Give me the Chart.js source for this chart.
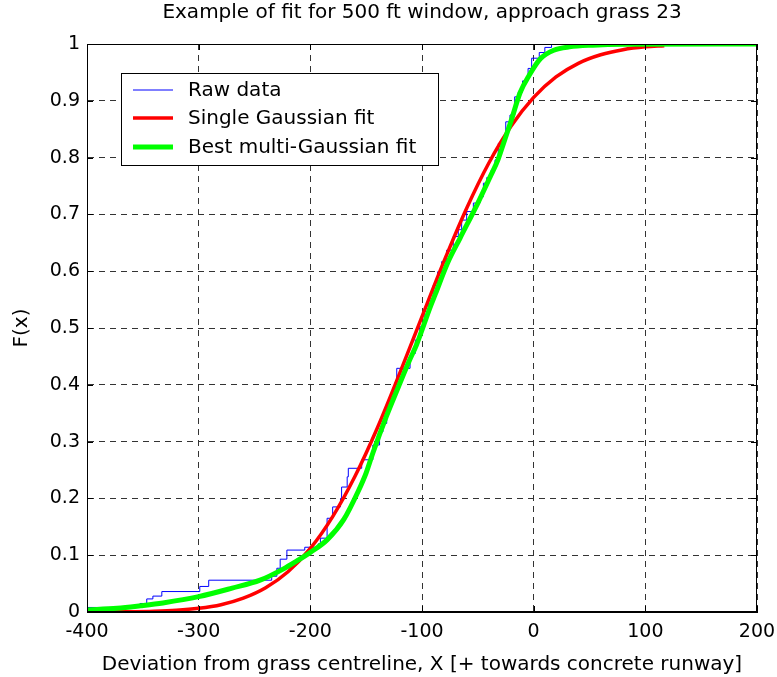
<!DOCTYPE html>
<html>
<head>
<meta charset="utf-8">
<script src="https://cdn.jsdelivr.net/npm/chart.js@4.4.1/dist/chart.umd.min.js"></script>
<style>
    html, body { margin: 0; padding: 0; background: #fff; }
    #wrap { width: 777px; height: 677px; }
</style>
</head>
<body>
<div id="wrap"><canvas id="cdfChart" width="777" height="677"></canvas></div>
<script>
// Datos
const xTicks = [-400, -300, -200, -100, 0, 100, 200];
const yTicks = [0, 0.1, 0.2, 0.3, 0.4, 0.5, 0.6, 0.7, 0.8, 0.9, 1];

// Raw data (escalones de la CDF empírica)
const rawX = [-400, -352.5, -346.5, -341, -333, -299, -291, -234.6, -230, -227, -221, -205, -193, -191, -185, -180, -173, -172, -167, -166, -154, -144, -138, -135, -131.6, -128, -124, -122.6, -110.7, -109, -106, -102, -98, -94, -90, -86, -82.4, -78, -72, -67.5, -64.5, -60, -54, -48, -45, -42, -38, -34.6, -31.7, -28.7, -25, -21.2, -17, -13.8, -10, -5, -1.8, 5, 10, 16, 65, 200];
const rawF = [0, 0.008, 0.015, 0.023, 0.028, 0.036, 0.045, 0.056, 0.063, 0.077, 0.093, 0.109, 0.114, 0.12, 0.13, 0.165, 0.185, 0.2, 0.22, 0.238, 0.253, 0.268, 0.294, 0.317, 0.332, 0.36, 0.385, 0.405, 0.429, 0.447, 0.455, 0.479, 0.502, 0.529, 0.549, 0.575, 0.599, 0.617, 0.637, 0.661, 0.673, 0.69, 0.705, 0.72, 0.731, 0.755, 0.765, 0.778, 0.796, 0.825, 0.83, 0.863, 0.875, 0.907, 0.915, 0.935, 0.957, 0.975, 0.985, 0.994, 1, 1];

// Single Gaussian fit
const singleX = [-400, -360, -340, -320, -300, -280, -260, -240, -220, -200, -180, -160, -140, -120, -100, -80, -60, -40, -20, 0, 20, 40, 60, 80, 100, 117];
const singleF = [0.0001, 0.0006, 0.0014, 0.0031, 0.0066, 0.0129, 0.0244, 0.0427, 0.0708, 0.112, 0.168, 0.239, 0.324, 0.420, 0.520, 0.619, 0.711, 0.791, 0.856, 0.906, 0.942, 0.966, 0.981, 0.990, 0.995, 0.997];

// Best multi-Gaussian fit
const multiX = [-400, -373, -352, -332, -300, -270, -245, -224, -212, -200, -185, -170, -157, -150, -144, -132, -121, -111, -105, -93, -88, -77, -66, -50, -39, -32, -27, -20, -12, -4, 6, 18, 32, 53, 80, 200];
const multiF = [0.0035, 0.0065, 0.011, 0.016, 0.027, 0.042, 0.056, 0.076, 0.09, 0.105, 0.127, 0.163, 0.213, 0.245, 0.28, 0.344, 0.397, 0.444, 0.47, 0.535, 0.56, 0.615, 0.658, 0.72, 0.766, 0.796, 0.825, 0.866, 0.915, 0.945, 0.974, 0.989, 0.995, 0.998, 0.9995, 1];

const toPoints = (xs, ys) => xs.map((x, i) => ({ x: x, y: ys[i] }));

const fontMain = '"DejaVu Sans", "Liberation Sans", Arial, sans-serif';

// Caja completa estilo MATLAB + marcas de tick hacia dentro
const boxPlugin = {
    id: 'boxPlugin',
    afterDatasetsDraw(chart) {
        const { ctx, chartArea: a, scales } = chart;
        ctx.save();
        ctx.strokeStyle = '#000';
        ctx.lineWidth = 1;
        ctx.strokeRect(a.left + 0.5, a.top + 0.5, a.right - a.left - 1, a.bottom - a.top - 1);
        ctx.beginPath();
        xTicks.forEach(v => {
            const px = Math.round(scales.x.getPixelForValue(v)) + 0.5;
            ctx.moveTo(px, a.bottom); ctx.lineTo(px, a.bottom - 6);
            ctx.moveTo(px, a.top); ctx.lineTo(px, a.top + 6);
        });
        yTicks.forEach(v => {
            const py = Math.round(scales.y.getPixelForValue(v)) + 0.5;
            ctx.moveTo(a.left, py); ctx.lineTo(a.left + 6, py);
            ctx.moveTo(a.right, py); ctx.lineTo(a.right - 6, py);
        });
        ctx.stroke();
        ctx.restore();
    }
};

// Leyenda dentro del área del gráfico
const legendBoxPlugin = {
    id: 'legendBoxPlugin',
    afterDraw(chart) {
        const { ctx } = chart;
        const x0 = 121, y0 = 73, w = 317, h = 92;
        ctx.save();
        ctx.fillStyle = '#fff';
        ctx.fillRect(x0, y0, w, h);
        ctx.strokeStyle = '#000';
        ctx.lineWidth = 1;
        ctx.strokeRect(x0 + 0.5, y0 + 0.5, w, h);
        ctx.font = '20px ' + fontMain;
        ctx.textBaseline = 'middle';
        const rows = [90, 118, 147];
        chart.data.datasets.forEach((ds, i) => {
            const y = rows[i];
            ctx.strokeStyle = ds.borderColor;
            ctx.lineWidth = ds.legendWidth;
            ctx.beginPath();
            ctx.moveTo(133, y); ctx.lineTo(173, y);
            ctx.stroke();
            ctx.fillStyle = '#000';
            ctx.fillText(ds.label, 188, y + 1);
        });
        ctx.restore();
    }
};

new Chart(document.getElementById('cdfChart'), {
    type: 'line',
    data: {
        datasets: [{
            label: 'Raw data',
            data: toPoints(rawX, rawF),
            borderColor: '#0000ff',
            borderWidth: 1,
            stepped: 'after',
            pointRadius: 0,
            order: 3,
            legendWidth: 1
        }, {
            label: 'Single Gaussian fit',
            data: toPoints(singleX, singleF),
            borderColor: '#ff0000',
            borderWidth: 3.5,
            cubicInterpolationMode: 'monotone',
            pointRadius: 0,
            order: 2,
            legendWidth: 3.5
        }, {
            label: 'Best multi-Gaussian fit',
            data: toPoints(multiX, multiF),
            borderColor: '#00ff00',
            borderWidth: 5,
            cubicInterpolationMode: 'monotone',
            pointRadius: 0,
            order: 1,
            legendWidth: 5
        }]
    },
    options: {
        responsive: false,
        animation: false,
        layout: { padding: { left: 0, right: 20, top: 0, bottom: 0 } },
        plugins: {
            legend: { display: false },
            tooltip: { enabled: false },
            title: {
                display: true,
                fullSize: false,
                text: 'Example of fit for 500 ft window, approach grass 23',
                color: '#000',
                font: { family: fontMain, size: 20, weight: 'normal' },
                padding: { top: 1, bottom: 19 }
            }
        },
        scales: {
            x: {
                type: 'linear',
                min: -400,
                max: 200,
                afterBuildTicks: (s) => { s.ticks = xTicks.map(v => ({ value: v })); },
                afterFit: (s) => { s.height = 65; s.paddingRight = 0; s.paddingLeft = 0; },
                grid: { color: '#333', drawTicks: false, lineWidth: 1 },
                border: { display: true, color: '#000', width: 1, dash: [6, 5] },
                ticks: { color: '#000', padding: 9, font: { family: fontMain, size: 19 }, maxRotation: 0 },
                title: {
                    display: true,
                    text: 'Deviation from grass centreline, X [+ towards concrete runway]',
                    color: '#000',
                    font: { family: fontMain, size: 20 },
                    padding: { top: 2, bottom: 0 }
                }
            },
            y: {
                type: 'linear',
                min: 0,
                max: 1,
                afterBuildTicks: (s) => { s.ticks = yTicks.map(v => ({ value: v })); },
                afterFit: (s) => { s.width = 87; },
                grid: { color: '#333', drawTicks: false, lineWidth: 1 },
                border: { display: true, color: '#000', width: 1, dash: [6, 5] },
                ticks: {
                    color: '#000',
                    padding: 7,
                    font: { family: fontMain, size: 19 },
                    callback: (v) => String(Math.round(v * 10) / 10)
                },
                title: {
                    display: true,
                    text: 'F(x)',
                    color: '#000',
                    font: { family: fontMain, size: 20 },
                    padding: { top: 10, bottom: 0 }
                }
            }
        }
    },
    plugins: [boxPlugin, legendBoxPlugin]
});
</script>
</body>
</html>
